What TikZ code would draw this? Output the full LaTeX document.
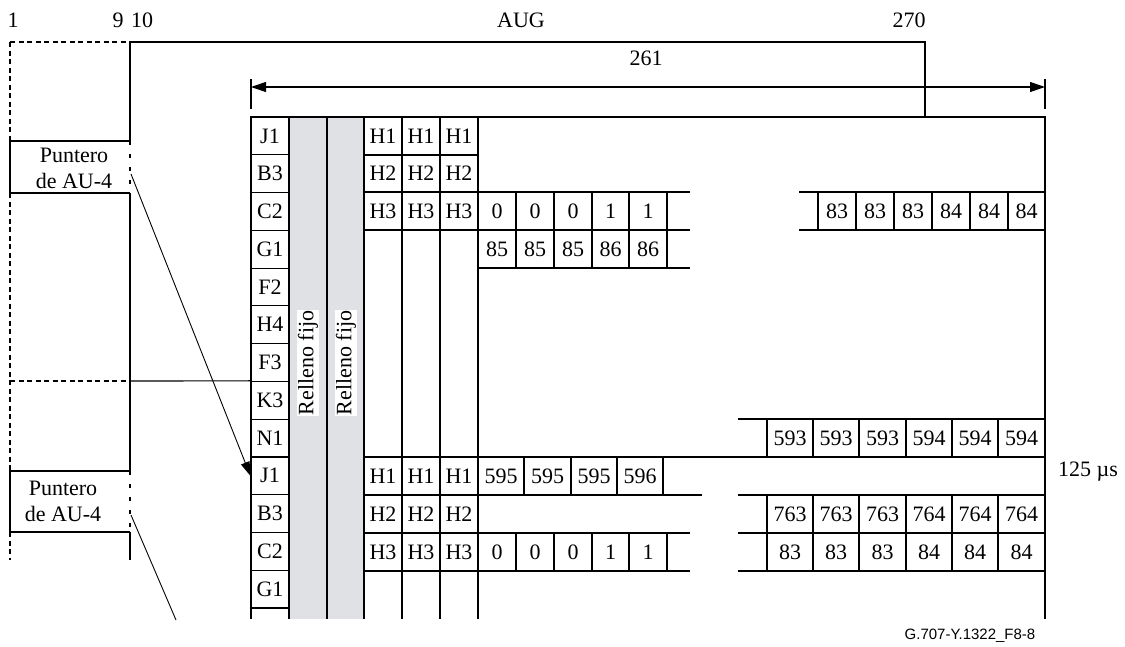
\documentclass[tikz,border=0pt]{standalone}
\usepackage{fontspec}
\setmainfont{Liberation Serif}
\newfontfamily\arialfont{Liberation Sans}
\usetikzlibrary{arrows.meta}
\definecolor{fillgrey}{RGB}{224,225,228}
\begin{document}
\begin{tikzpicture}[x=1pt,y=-1pt,line width=1.15pt,
  font=\fontsize{22}{26}\selectfont,
  txt/.style={inner sep=0pt},
  lcell/.style={draw,minimum width=38pt,minimum height=37.77pt,inner sep=0pt},
  dsh/.style={dash pattern=on 5pt off 3.5pt},
  sdsh/.style={dash pattern=on 4pt off 9pt},
  tip/.style={-{Triangle[length=14pt,width=9pt]}},
  dim/.style={{Triangle[length=15pt,width=10pt]}-{Triangle[length=15pt,width=10pt]}},
  fill label/.style={rotate=90,fill=white,inner sep=1pt}]
\useasboundingbox (0,0) rectangle (1125,646);

% top labels
\node[txt] (n1) at (13,20) {1};
\node[txt] (n9) at (118,20) {9};
\node[txt] (n10) at (142,20) {10};
\node[txt] (naug) at (521,20) {AUG};
\node[txt] (n270) at (909,20) {270};
\node[txt] (n261) at (646,58) {261};

% grey stuffing columns
\fill[fillgrey] (289,117) rectangle (364,619);

% outer AUG frame
\draw[dsh] (10,42) -- (130,42);
\draw (130,141) -- (130,42) -- (925,42) -- (925,117);
\draw[dsh] (10,42) -- (10,141);
\draw[dsh] (10,193) -- (10,471);
\draw[dsh] (10,532) -- (10,560);
\draw[dsh] (10,381) -- (126,381);
\draw (130,193) -- (130,471);
\draw (130,532) -- (130,560);

% pointer boxes
\draw (130,141) -- (10,141) -- (10,193) -- (130,193);
\draw[sdsh] (130,141) -- (130,193);
\node[txt,align=center] (p1) at (74,168) {Puntero\\de AU-4};
\draw (130,471) -- (10,471) -- (10,532) -- (130,532);
\draw[sdsh] (130,471) -- (130,532);
\node[txt,align=center] (p2) at (63,501) {Puntero\\de AU-4};

% dimension 261
\coordinate (dl) at (251,87);
\coordinate (dr) at (1045,87);
\draw (251,79) -- (251,109);
\draw (1045,79) -- (1045,109);
\draw[dim] (dl) -- (dr);

% first column cells
\foreach \t [count=\i from 0] in {J1,B3,C2,G1,F2,H4,F3,K3,N1,J1,B3,C2,G1}
  \node[lcell] (c\i) at (270,{117+37.77*\i+18.885}) {\t};

% vertical grid lines
\foreach \x in {251,289,327,364,402,440,478}
  \draw (\x,117) -- (\x,619);
\draw (251,117) -- (1045,117) -- (1045,619);
\draw (130,381) -- (c7.north west);

% Relleno fijo
\node[fill label] (rf1) at (308,363) {Relleno fijo};
\node[fill label] (rf2) at (346,363) {Relleno fijo};

% ---- block 1 ----
\draw (364,155) -- (478,155);
\draw (364,192) -- (690,192);
\draw (364,230) -- (690,230);
\draw (478,268) -- (690,268);
\foreach \x in {516,554,592,629,667} \draw (\x,192) -- (\x,268);
\foreach \x in {383,421,459} {
  \node[txt] at (\x,136) {H1};
  \node[txt] at (\x,173.5) {H2};
  \node[txt] at (\x,211) {H3};
}
\foreach \x/\t in {497/0,535/0,573/0,610.5/1,648/1} \node[txt] at (\x,211) {\t};
\foreach \x/\t in {497/85,535/85,573/85,610.5/86,648/86} \node[txt] at (\x,249) {\t};
\draw (799,192) -- (1045,192);
\draw (799,230) -- (1045,230);
\foreach \x in {818,856,894,932,970,1008} \draw (\x,192) -- (\x,230);
\foreach \x/\t in {837/83,875/83,913/83,951/84,989/84,1026.5/84} \node[txt] at (\x,211) {\t};

% ---- block 2 ----
\draw (738,419) -- (1045,419);
\foreach \x in {767,813,859,906,952,998} \draw (\x,419) -- (\x,457);
\foreach \x/\t in {790/593,836/593,882.5/593,929/594,975/594,1021.5/594} \node[txt] at (\x,438) {\t};
\draw (364,457) -- (1045,457);
\draw (364,495) -- (702,495);
\draw (364,533) -- (690,533);
\draw (364,571) -- (690,571);
\foreach \x in {383,421,459} {
  \node[txt] at (\x,476) {H1};
  \node[txt] at (\x,514) {H2};
  \node[txt] at (\x,552) {H3};
}
\foreach \x in {524,571,617,663} \draw (\x,457) -- (\x,495);
\foreach \x/\t in {501/595,547.5/595,594/595,640/596} \node[txt] at (\x,476) {\t};
\foreach \x in {516,554,592,629,667} \draw (\x,533) -- (\x,571);
\foreach \x/\t in {497/0,535/0,573/0,610.5/1,648/1} \node[txt] at (\x,552) {\t};
\draw (738,495) -- (1045,495);
\draw (738,533) -- (1045,533);
\draw (738,571) -- (1045,571);
\foreach \x in {767,813,859,906,952,998} \draw (\x,495) -- (\x,571);
\foreach \x/\t in {790/763,836/763,882.5/763,929/764,975/764,1021.5/764} \node[txt] at (\x,514) {\t};
\foreach \x/\t in {790/83,836/83,882.5/83,929/84,975/84,1021.5/84} \node[txt] at (\x,552) {\t};

% pointer arrows
\coordinate (p1out) at (131,174);
\draw[tip,line width=0.9pt] (p1out) -- (c9.west);
\coordinate (p2out) at (131,515);
\coordinate (p2end) at (176,620);
\draw[line width=0.9pt] (p2out) -- (p2end);

% labels right
\node[txt] (t125) at (1088,472) {125 µs};
\node[txt,font=\arialfont\fontsize{15}{17}\selectfont] (fig) at (970,636) {G.707-Y.1322\_F8-8};
\end{tikzpicture}
\end{document}
